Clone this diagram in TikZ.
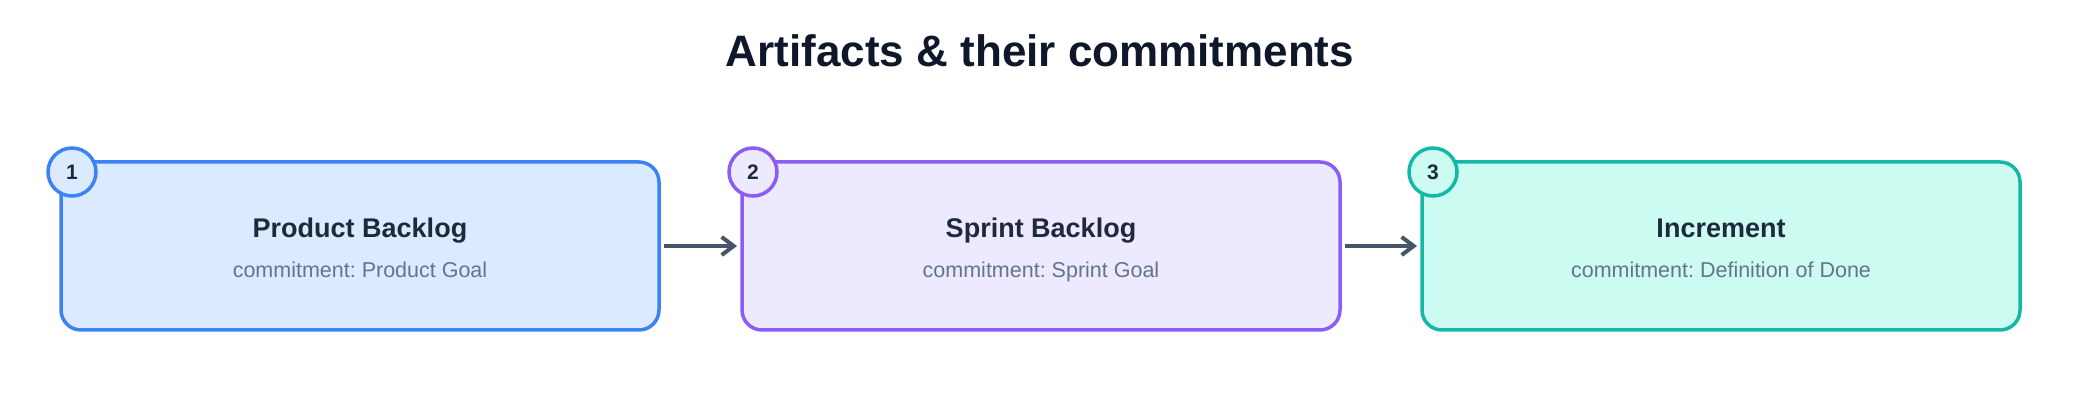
\documentclass[tikz,border=0pt]{standalone}
\usepackage{fontspec}
\setmainfont{Liberation Sans}
\usetikzlibrary{arrows.meta}
\frenchspacing

\definecolor{pbline}{HTML}{3B82F6}
\definecolor{pbfill}{HTML}{DBEAFE}
\definecolor{sbline}{HTML}{8B5CF6}
\definecolor{sbfill}{HTML}{EDE9FE}
\definecolor{incline}{HTML}{14B8A6}
\definecolor{incfill}{HTML}{CCFBF1}
\definecolor{titlecol}{HTML}{0F172A}
\definecolor{namecol}{HTML}{1E293B}
\definecolor{subcol}{HTML}{64748B}
\definecolor{arrowcol}{HTML}{475569}

\begin{document}
\begin{tikzpicture}[x=1pt,y=1pt,
  artifact/.style={draw=#1line,fill=#1fill,line width=3.5pt,rounded corners=20pt,
    minimum width=598pt,minimum height=168pt,outer sep=0pt},
  badge/.style={circle,draw=#1line,fill=#1fill,line width=3.5pt,minimum size=48pt,
    inner sep=0pt,text=namecol,font=\fontsize{21}{25}\selectfont\bfseries},
  flow/.style={draw=arrowcol,line width=4pt,-{Straight Barb[length=12pt,width=18pt]},
    shorten <=5pt,shorten >=5pt}]
\useasboundingbox (0,0) rectangle (2080,420);
\node[anchor=base,text=titlecol,font=\fontsize{44}{52}\selectfont\bfseries] (title) at (1040,353) {Artifacts \& their commitments};
\foreach \key/\x/\head/\sub [count=\i] in {pb/360/Product Backlog/Product Goal,
    sb/1041/Sprint Backlog/Sprint Goal,
    inc/1721/Increment/Definition of Done}
{
  \node[artifact=\key] (\key) at (\x,174) {};
  \node[anchor=base,text=namecol,font=\fontsize{27}{32}\selectfont\bfseries] (\key-head) at ([yshift=8pt]\key.center) {\head};
  \node[anchor=base,text=subcol,font=\fontsize{21.5}{26}\selectfont] (\key-sub) at ([yshift=-31.7pt]\key.center) {commitment: \sub};
  \node[badge=\key] (\key-num) at ([xshift=11pt,yshift=-10pt]\key.north west) {\i};
}
\draw[flow] (pb) -- (sb);
\draw[flow] (sb) -- (inc);
\end{tikzpicture}
\end{document}
